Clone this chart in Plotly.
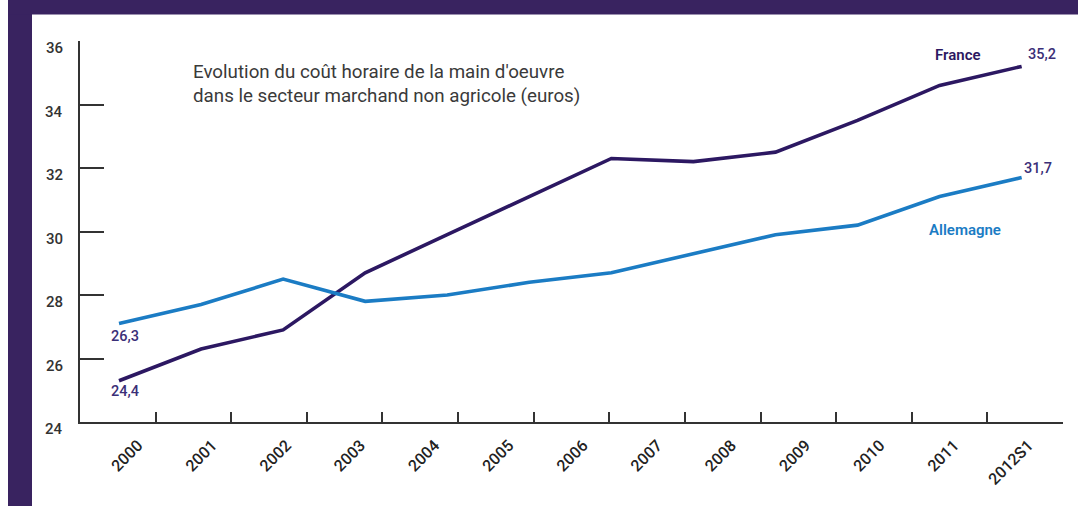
import plotly.graph_objects as go

# ---------------- data ----------------
periods = ["2000", "2001", "2002", "2003", "2004", "2005", "2006",
           "2007", "2008", "2009", "2010", "2011", "2012S1"]
point_index = [0, 1, 2, 3, 4, 5, 6, 7, 8, 9, 10, 11]
france = [25.3, 26.3, 26.9, 28.7, 29.9, 31.1, 32.3, 32.2, 32.5, 33.5, 34.6, 35.2]
allemagne = [27.1, 27.7, 28.5, 27.8, 28.0, 28.4, 28.7, 29.3, 29.9, 30.2, 31.1, 31.7]
start_labels = {"France": "24,4", "Allemagne": "26,3"}
y_ticks = [24, 26, 28, 30, 32, 34, 36]
y_tick_labels = ["24", "26", "28", "30", "32", "34", "36"]
title_lines = ["Evolution du coût horaire de la main d'oeuvre",
               "dans le secteur marchand non agricole (euros)"]

# ---------------- style ----------------
FONT = "Roboto"
C_FR = "#2c1862"
C_DE = "#1b7cc4"
C_LBL = "#3b2f78"
C_AX = "#333333"
C_BAND = "#392360"

W, H = 1078, 506
L, R, T, B = 80, 15, 41, 84
PW = W - L - R

fig = go.Figure()

# dummy traces so that the frame axis and the label axis exist
fig.add_trace(go.Scatter(x=[0], y=[None], xaxis="x", yaxis="y", mode="lines",
                         showlegend=False, hoverinfo="skip"))
fig.add_trace(go.Scatter(x=periods, y=[None] * len(periods), xaxis="x3", yaxis="y",
                         mode="lines", showlegend=False, hoverinfo="skip"))

fig.add_trace(go.Scatter(x=point_index, y=france, mode="lines", name="France",
                         line=dict(color=C_FR, width=3.6), xaxis="x2", yaxis="y",
                         showlegend=False))
fig.add_trace(go.Scatter(x=point_index, y=allemagne, mode="lines", name="Allemagne",
                         line=dict(color=C_DE, width=3.6), xaxis="x2", yaxis="y",
                         showlegend=False))

ann = []
for v, t in zip(y_ticks, y_tick_labels):
    ann.append(dict(x=0, xref="paper", y=v, yref="y", text=t, showarrow=False,
                    xanchor="right", yanchor="middle", xshift=-15, yshift=-7,
                    font=dict(family=FONT, size=15, color=C_AX, weight=500)))

ann.append(dict(x=(191 - L) / PW, xref="paper", y=0.886, yref="paper",
                text="<br>".join(title_lines), showarrow=False, align="left",
                xanchor="left", yanchor="middle",
                font=dict(family=FONT, size=18.75, color="#3a3a3a")))

lbl_font = dict(family=FONT, size=14.5, color=C_LBL, weight=500)
ann.append(dict(x=point_index[0], xref="x2", y=allemagne[0], yref="y",
                text=start_labels["Allemagne"], showarrow=False,
                xshift=6, yshift=-13, font=lbl_font))
ann.append(dict(x=point_index[0], xref="x2", y=france[0], yref="y",
                text=start_labels["France"], showarrow=False,
                xshift=6, yshift=-11, font=lbl_font))
ann.append(dict(x=point_index[-1], xref="x2", y=france[-1], yref="y",
                text=f"{france[-1]:.1f}".replace(".", ","), showarrow=False,
                xanchor="left", xshift=4, yshift=12, font=lbl_font))
ann.append(dict(x=point_index[-1], xref="x2", y=allemagne[-1], yref="y",
                text=f"{allemagne[-1]:.1f}".replace(".", ","), showarrow=False,
                xanchor="left", xshift=0, yshift=9, font=lbl_font))

ann.append(dict(x=10.22, xref="x2", y=35.55, yref="y", text="France",
                showarrow=False, font=dict(family=FONT, size=15, color=C_FR, weight=600)))
ann.append(dict(x=10.31, xref="x2", y=30.06, yref="y", text="Allemagne",
                showarrow=False, font=dict(family=FONT, size=15, color=C_DE, weight=600)))

shapes = [
    dict(type="rect", xref="paper", yref="paper",
         x0=(8 - L) / PW, x1=(32 - L) / PW,
         y0=-(B + 5) / (H - T - B), y1=(H - B + 5) / (H - T - B),
         fillcolor=C_BAND, line_width=0, layer="below"),
    dict(type="rect", xref="paper", yref="paper",
         x0=(8 - L) / PW, x1=(W + 5 - L) / PW,
         y0=(H - B - 14.5) / (H - T - B), y1=(H - B + 5) / (H - T - B),
         fillcolor=C_BAND, line_width=0, layer="below"),
]

# data axis: point i at pixel 119 + 82.06 i
x2_r0 = -(119 - L) / 82.06
x2_r1 = x2_r0 + PW / 82.06
# label axis: label i anchored at pixel 138 + 74.2 i
x3_r0 = -(138 - L) / 74.2
x3_r1 = x3_r0 + PW / 74.2

fig.update_layout(
    width=W, height=H,
    margin=dict(l=L, r=R, t=T, b=B),
    paper_bgcolor="white", plot_bgcolor="white",
    showlegend=False, hovermode=False,
    annotations=ann, shapes=shapes,
    xaxis=dict(range=[-0.5, len(periods) - 0.5],
               tickvals=[k - 0.5 for k in range(len(periods) + 1)],
               showticklabels=False,
               ticks="inside", ticklen=10, tickwidth=2,
               tickcolor=C_AX, showline=True, linecolor=C_AX, linewidth=2,
               showgrid=False, zeroline=False),
    xaxis2=dict(overlaying="x", anchor="y", range=[x2_r0, x2_r1], visible=False),
    xaxis3=dict(overlaying="x", anchor="y", side="bottom", type="category",
                categoryorder="array", categoryarray=periods,
                range=[x3_r0, x3_r1], ticks="", showline=False, showgrid=False,
                zeroline=False, tickangle=-45, ticklabelstandoff=10,
                tickfont=dict(family=FONT, size=16, color="#222222", weight=500)),
    yaxis=dict(range=[24, 36], tickvals=y_ticks, showticklabels=False,
               ticks="inside", ticklen=24, tickwidth=2, tickcolor=C_AX,
               showline=True, linecolor=C_AX, linewidth=2,
               showgrid=False, zeroline=False),
)

fig.write_html("out.html", config={"displayModeBar": False},
               post_script="document.body.style.margin='0px';")
